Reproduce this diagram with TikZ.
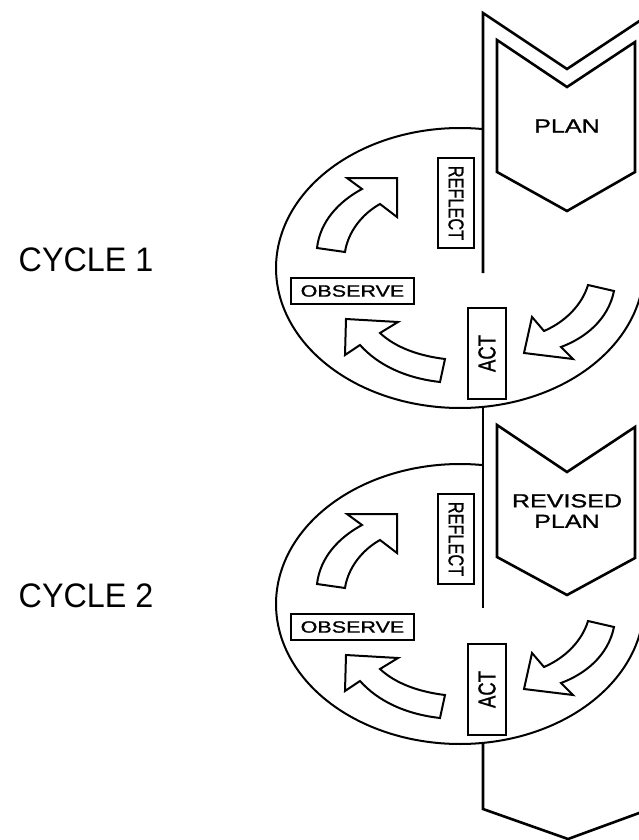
\documentclass[tikz,border=0pt]{standalone}
\usepackage{fontspec}
\setmainfont{Liberation Sans}
\newfontfamily\lblfont[FakeBold=0.9]{Liberation Sans}
\usepackage{graphicx}
\newcommand{\wide}[1]{\scalebox{1.32}[1]{#1}}
\begin{document}
\begin{tikzpicture}[x=1pt,y=-1pt,
  ring/.style={line width=2pt},
  spine/.style={line width=2.6pt, line join=miter},
  bigarrow/.style={draw, fill=white, line width=2pt, line join=miter},
  chev/.style={draw, fill=white, line width=2.6pt, line join=miter},
  lbl/.style={draw, fill=white, line width=2pt, inner sep=0pt, font=\lblfont\fontsize{16.3}{19}\selectfont},
  cyc/.style={font=\fontsize{34}{40}\selectfont}]
\useasboundingbox (0,0) rectangle (639,840);
\clip (0,0) rectangle (639,840);

% ellipses
\foreach \dy in {0,336} {
  \draw[ring, shift={(0,\dy)}] plot[domain=82.8:350, samples=150, smooth] ({460+184*cos(\x)},{268-140*sin(\x)});
}

% spine lines
\draw[spine] (483,273) -- (483,13) -- (567,69) -- (650,14);
\draw[spine] (483,407) -- (483,608);
\draw[spine] (483,743) -- (483,809) -- (568,839) -- (650,809);

% curved block arrows, reflect/observe/act boxes
\foreach \dy/\n in {0/1,336/2} {
  \begin{scope}[shift={(0,\dy)}]
    \draw[bigarrow] (317,248) .. controls (320,222) and (338,202) .. (362,189)
      -- (347,178) -- (397,178) -- (397,217) -- (380,204)
      .. controls (362,214) and (348,232) .. (345,252) -- cycle;
    \draw[bigarrow] (346,319) -- (398,322) -- (380,333)
      .. controls (396,348) and (420,356) .. (445,359)
      -- (440,382) .. controls (405,378) and (378,365) .. (360,345)
      -- (345,355) -- cycle;
    \draw[bigarrow] (588,285) -- (614,291)
      .. controls (608,320) and (585,338) .. (561,347)
      -- (573,359) -- (524,353) -- (532,317) -- (544,331)
      .. controls (565,322) and (582,305) .. cycle;
    \node[lbl, minimum width=36pt, minimum height=90pt] (reflect\n) at (456,203) {\wide{\rotatebox{-90}{REFLECT}}};
    \node[lbl, minimum width=123pt, minimum height=26pt] (observe\n) at (352.5,291) {\wide{OBSERVE}};
    \node[lbl, minimum width=38pt, minimum height=91pt, font=\lblfont\fontsize{18.5}{20}\selectfont] (act\n) at (487,353.5) {\wide{\rotatebox{90}{ACT}}};
  \end{scope}
}

% plan chevrons
\draw[chev] (497,40) -- (567,87) -- (635,42) -- (635,172) -- (567,211) -- (497,172) -- cycle;
\draw[chev] (497,425) -- (567,472) -- (635,427) -- (635,558) -- (567,595) -- (497,557) -- cycle;

\node[font=\lblfont\fontsize{19}{21}\selectfont] (plan) at (567,126) {\wide{PLAN}};
\node[font=\lblfont\fontsize{19}{20.5}\selectfont, align=center] (rplan) at (567,511) {\wide{REVISED}\\\wide{PLAN}};

\node[cyc] (cycle1) at (86,260) {\scalebox{0.95}[1]{CYCLE 1}};
\node[cyc] (cycle2) at (86,596) {\scalebox{0.95}[1]{CYCLE 2}};
\end{tikzpicture}
\end{document}
